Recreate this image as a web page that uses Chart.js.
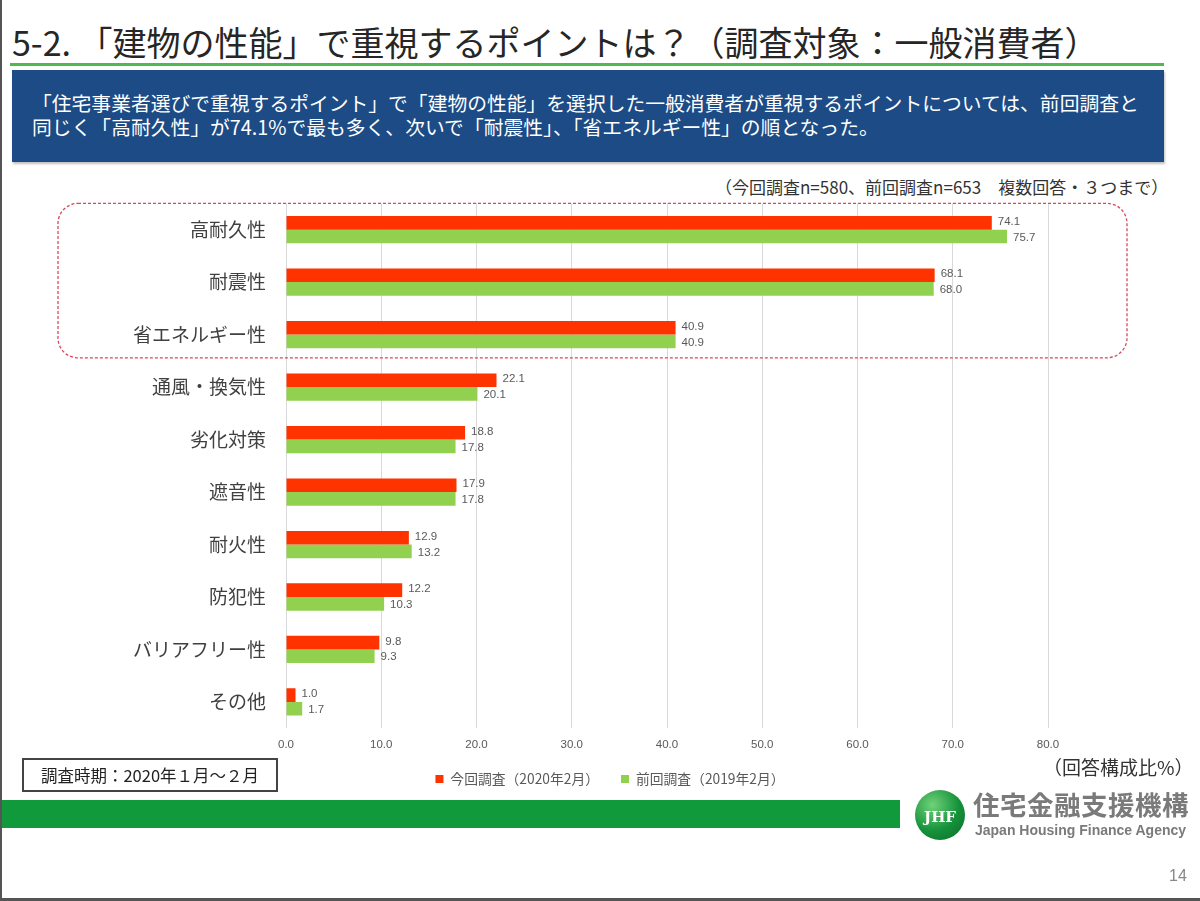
<!DOCTYPE html>
<html lang="ja">
<head>
<meta charset="utf-8">
<script src="https://cdn.jsdelivr.net/npm/chart.js@4.4.1/dist/chart.umd.min.js"></script>
<style>
  html,body{margin:0;padding:0;background:#fff;}
  body{width:1200px;height:901px;position:relative;overflow:hidden;font-family:"Noto Sans CJK JP","Noto Sans",sans-serif;}
  .abs{position:absolute;}
  #title{left:12px;top:22px;font-size:34px;color:#262626;white-space:nowrap;line-height:1.2;}
  #gline{left:10px;top:63px;width:1154px;height:3px;background:#4fb84f;}
  #bluebox{left:12px;top:70px;width:1152px;height:92px;background:#1c4b86;box-shadow:1px 2px 2px rgba(0,0,0,0.25);}
  #bluebox div{position:absolute;left:20px;color:#fff;font-size:19.8px;white-space:nowrap;line-height:1;}
  #note{left:715px;top:174px;font-size:17px;color:#333;white-space:nowrap;}
  #chartwrap{left:0;top:180px;width:1200px;height:620px;}
  #period{left:22px;top:758px;width:252px;height:30px;border:2px solid #444;font-size:16.5px;color:#222;line-height:30px;text-align:center;white-space:nowrap;}
  #unit{left:1043px;top:753px;font-size:19px;color:#333;white-space:nowrap;}
  #gbar{left:0;top:800px;width:900px;height:28px;background:#119a3c;}
  #logo{left:915px;top:790px;width:50px;height:50px;border-radius:50%;background:radial-gradient(circle at 35% 30%,#6fd27a,#15913a 55%,#0b6b28);color:#fff;font-family:"DejaVu Serif",serif;font-weight:bold;font-size:15px;text-align:center;line-height:54px;}
  #org{left:973px;top:784px;font-size:26.5px;font-weight:bold;color:#7a7a7a;white-space:nowrap;letter-spacing:0.5px;}
  #orgen{left:975px;top:822px;font-family:"Liberation Sans",Arial,sans-serif;font-size:14px;font-weight:bold;color:#7a7a7a;white-space:nowrap;}
  #page{left:1169px;top:867px;font-size:16px;color:#888;font-family:"Liberation Sans",Arial,sans-serif;}
  #lborder{left:0;top:0;width:2px;height:901px;background:#555;}
  #bborder{left:0;top:898px;width:1200px;height:3px;background:#555;}
</style>
</head>
<body>
<div id="title" class="abs">5-2.&nbsp;「建物の性能」で重視するポイントは？（調査対象：一般消費者）</div>
<div id="gline" class="abs"></div>
<div id="bluebox" class="abs">
  <div style="top:23px;">「住宅事業者選びで重視するポイント」で「建物の性能」を選択した一般消費者が重視するポイントについては、前回調査と</div>
  <div style="top:47px;">同じく「高耐久性」が74.1%で最も多く、次いで「耐震性」、「省エネルギー性」の順となった。</div>
</div>
<div id="note" class="abs">（今回調査n=580、前回調査n=653　複数回答・３つまで）</div>
<div id="chartwrap" class="abs"><canvas id="c"></canvas></div>
<div id="period" class="abs">調査時期：2020年１月～２月</div>
<div id="unit" class="abs">（回答構成比%）</div>
<div id="gbar" class="abs"></div>
<div id="logo" class="abs">JHF</div>
<div id="org" class="abs">住宅金融支援機構</div>
<div id="orgen" class="abs">Japan Housing Finance Agency</div>
<div id="page" class="abs">14</div>
<div id="lborder" class="abs"></div>
<div id="bborder" class="abs"></div>
<script>
const categories = ["高耐久性","耐震性","省エネルギー性","通風・換気性","劣化対策","遮音性","耐火性","防犯性","バリアフリー性","その他"];
const currentLabel = "今回調査（2020年2月）";
const previousLabel = "前回調査（2019年2月）";
const currentValues = [74.1,68.1,40.9,22.1,18.8,17.9,12.9,12.2,9.8,1.0];
const previousValues = [75.7,68.0,40.9,20.1,17.8,17.8,13.2,10.3,9.3,1.7];
const xTicks = [0,10,20,30,40,50,60,70,80];

const dataLabels = {
  id:'dataLabels',
  afterDatasetsDraw(chart){
    const ctx = chart.ctx;
    ctx.save();
    ctx.font = '11.5px "Liberation Sans","Noto Sans",sans-serif';
    ctx.fillStyle = '#595959';
    ctx.textBaseline = 'middle';
    ctx.textAlign = 'left';
    chart.data.datasets.forEach((ds,i)=>{
      const meta = chart.getDatasetMeta(i);
      meta.data.forEach((el,j)=>{
        ctx.fillText(ds.data[j].toFixed(1), el.x + 6, el.y + (i===0 ? -1 : 1));
      });
    });
    ctx.restore();
  }
};

const highlightBox = {
  id:'highlightBox',
  beforeDatasetsDraw(chart){
    const y = chart.scales.y;
    const half = (y.getPixelForValue(1) - y.getPixelForValue(0)) / 2;
    const top = y.getPixelForValue(0) - half;
    const bottom = y.getPixelForValue(2) + half - 3;
    const left = 58, right = 1127, r = 20;
    const ctx = chart.ctx;
    ctx.save();
    ctx.strokeStyle = '#d9475a';
    ctx.lineWidth = 1.3;
    ctx.setLineDash([3,2]);
    ctx.beginPath();
    ctx.roundRect(left, top, right-left, bottom-top, r);
    ctx.stroke();
    ctx.restore();
  }
};

const legendShift = {
  id:'legendShift',
  afterLayout(chart){
    if (chart.legend) { chart.legend.left += 86; chart.legend.right += 86; }
  }
};

new Chart(document.getElementById('c'), {
  type:'bar',
  data:{
    labels:categories,
    datasets:[
      {label:currentLabel, data:currentValues, backgroundColor:'#ff3300', barPercentage:1, categoryPercentage:0.52},
      {label:previousLabel, data:previousValues, backgroundColor:'#92d050', barPercentage:1, categoryPercentage:0.52}
    ]
  },
  options:{
    indexAxis:'y',
    responsive:true,
    maintainAspectRatio:false,
    animation:false,
    layout:{padding:{left:0, right:152, top:12, bottom:4}},
    plugins:{
      legend:{
        position:'bottom',
        labels:{boxWidth:8, boxHeight:8, padding:22, color:'#595959', font:{size:13.8, family:'"Noto Sans CJK JP"'}}
      },
      tooltip:{enabled:false}
    },
    scales:{
      x:{
        min:0, max:80,
        afterBuildTicks(scale){ scale.ticks = xTicks.map(v=>({value:v})); },
        afterFit(scale){ scale.height = 22; },
        ticks:{callback:v=>Number(v).toFixed(1), color:'#595959', padding:10, font:{size:11.5, family:'"Liberation Sans","Noto Sans",sans-serif'}},
        grid:{color:'#d9d9d9', drawTicks:false},
        border:{display:false}
      },
      y:{
        afterFit(scale){ scale.width = 286; },
        ticks:{color:'#404040', padding:12, font:{size:19, family:'"Noto Sans CJK JP"'}},
        grid:{display:false},
        border:{display:false}
      }
    }
  },
  plugins:[dataLabels, highlightBox, legendShift]
});
</script>
</body>
</html>
